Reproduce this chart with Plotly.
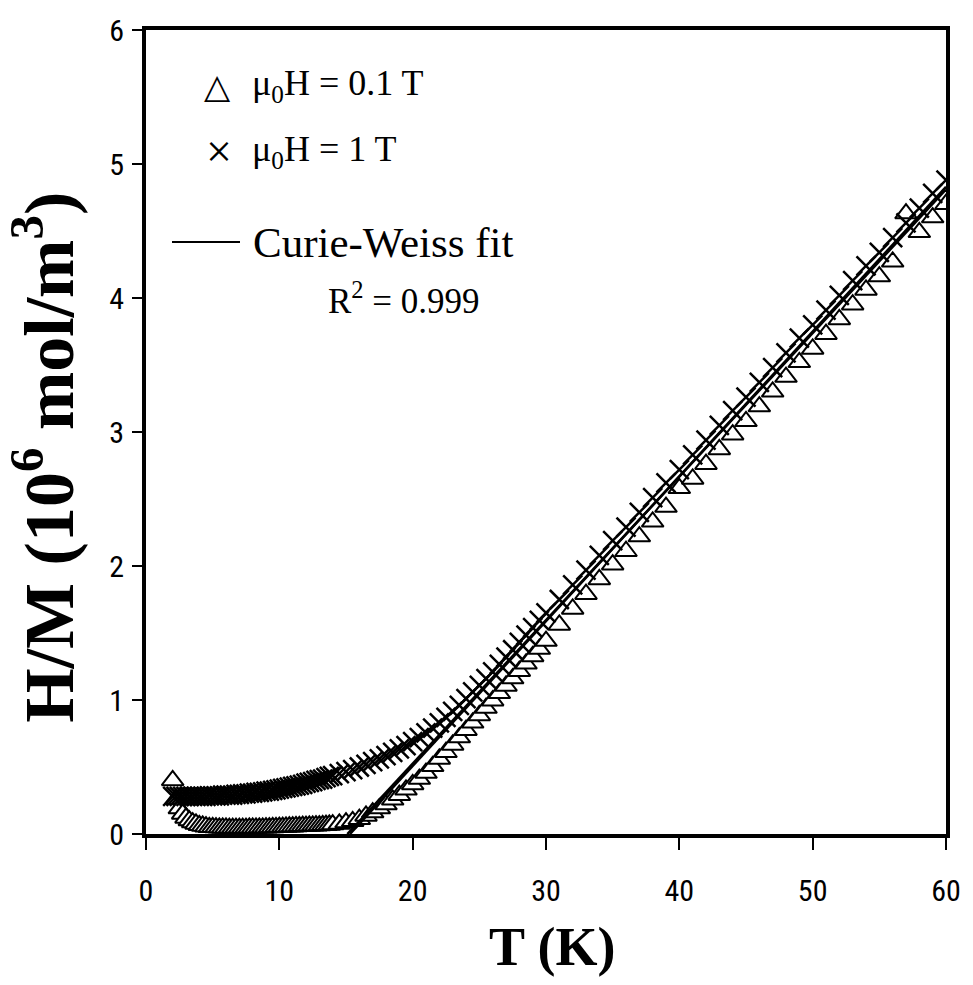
import plotly.graph_objects as go

# Temperatures (K) shared by both field series
T_K = [2, 2.25, 2.5, 2.75, 3, 3.25, 3.5, 3.75, 4, 4.25, 4.5, 4.75, 5, 5.25, 5.5, 5.75,
       6, 6.25, 6.5, 6.75, 7, 7.25, 7.5, 7.75, 8, 8.25, 8.5, 8.75, 9, 9.25, 9.5, 9.75,
       10, 10.25, 10.5, 10.75, 11, 11.25, 11.5, 11.75, 12, 12.25, 12.5, 12.75, 13, 13.25,
       13.5, 13.75, 14,
       14.5, 15, 15.5, 16, 16.5, 17, 17.5, 18, 18.5, 19, 19.5, 20, 20.5, 21, 21.5, 22,
       22.5, 23, 23.5, 24, 24.5, 25, 25.5, 26, 26.5, 27, 27.5, 28, 28.5, 29, 29.5, 30,
       31, 32, 33, 34, 35, 36, 37, 38, 39, 40, 41, 42, 43, 44, 45, 46, 47, 48, 49, 50,
       51, 52, 53, 54, 55, 56, 57, 58, 59, 60]

# H/M (10^6 mol/m^3) at mu0H = 0.1 T (triangles)
HM_01T = [0.40, 0.26, 0.19, 0.15, 0.12, 0.10, 0.085, 0.075, 0.065, 0.06, 0.055, 0.05, 0.05, 0.048, 0.046, 0.045,
          0.045, 0.044, 0.044, 0.044, 0.044, 0.044, 0.044, 0.045, 0.045, 0.045, 0.046, 0.046, 0.047, 0.048, 0.049, 0.05,
          0.051, 0.052, 0.053, 0.054, 0.055, 0.056, 0.057, 0.058, 0.059, 0.06, 0.061, 0.062, 0.063, 0.065,
          0.066, 0.068, 0.07,
          0.075, 0.085, 0.095, 0.11, 0.135, 0.16, 0.19, 0.22, 0.255, 0.29, 0.33, 0.37, 0.41, 0.455, 0.505, 0.56,
          0.61, 0.665, 0.72, 0.775, 0.83, 0.885, 0.94, 0.995, 1.05, 1.105, 1.16, 1.215, 1.27, 1.325, 1.38, 1.44,
          1.56, 1.68, 1.79, 1.90, 2.01, 2.11, 2.22, 2.33, 2.44, 2.58, 2.65, 2.76, 2.87, 2.98, 3.08, 3.19, 3.30, 3.41, 3.52, 3.62,
          3.73, 3.84, 3.95, 4.06, 4.16, 4.27, 4.63, 4.49, 4.60, 4.70]

# H/M at mu0H = 1 T (crosses)
HM_1T = [0.28, 0.28, 0.28, 0.28, 0.28, 0.28, 0.28, 0.28, 0.28, 0.28, 0.28, 0.285, 0.285, 0.285, 0.285, 0.29,
         0.29, 0.29, 0.29, 0.295, 0.295, 0.30, 0.30, 0.305, 0.305, 0.31, 0.31, 0.315, 0.32, 0.32, 0.325, 0.33,
         0.335, 0.34, 0.345, 0.35, 0.355, 0.36, 0.365, 0.37, 0.38, 0.385, 0.39, 0.40, 0.405, 0.41,
         0.42, 0.43, 0.435,
         0.45, 0.465, 0.48, 0.50, 0.52, 0.54, 0.56, 0.585, 0.61, 0.635, 0.66, 0.69, 0.72, 0.755, 0.79, 0.83,
         0.87, 0.915, 0.96, 1.01, 1.06, 1.11, 1.16, 1.21, 1.265, 1.32, 1.375, 1.43, 1.485, 1.54, 1.595, 1.65,
         1.75, 1.86, 1.97, 2.08, 2.19, 2.29, 2.40, 2.51, 2.62, 2.72, 2.83, 2.94, 3.05, 3.16, 3.26, 3.37, 3.48, 3.59, 3.70, 3.80,
         3.91, 4.02, 4.13, 4.24, 4.34, 4.45, 4.56, 4.67, 4.78, 4.88]

# Curie-Weiss fit lines (end points)
fitA_T = [15.3, 60]
fitA_HM = [0.0, 4.83]
fitB_T = [15.1, 60]
fitB_HM = [0.0, 4.81]

x_ticks = [0, 10, 20, 30, 40, 50, 60]
y_ticks = [0, 1, 2, 3, 4, 5, 6]

SERIF = "Liberation Serif, Times New Roman, serif"
TICKFONT = "Liberation Sans Narrow, Arial Narrow, Roboto Condensed, Liberation Sans, sans-serif"

fig = go.Figure()
fig.add_trace(go.Scatter(
    x=T_K, y=HM_01T, mode="markers", showlegend=False,
    marker=dict(symbol="triangle-up", size=19, color="white",
                line=dict(color="black", width=2))))
fig.add_trace(go.Scatter(
    x=T_K, y=HM_1T, mode="markers", showlegend=False,
    marker=dict(symbol="x-thin", size=19, color="black",
                line=dict(color="black", width=2.5))))
fig.add_trace(go.Scatter(x=fitA_T, y=fitA_HM, mode="lines", showlegend=False,
                         line=dict(color="black", width=2.5)))
fig.add_trace(go.Scatter(x=fitB_T, y=fitB_HM, mode="lines", showlegend=False,
                         line=dict(color="black", width=2.5)))

L, R, T, B = 146, 27, 26, 151
W, H = 973, 985
pw, ph = W - L - R, H - T - B

def px(x):
    return (x - L) / pw

def py(y):
    return (H - B - y) / ph

ann = []
ann.append(dict(text="△", x=px(217), y=py(82), xref="paper", yref="paper",
                showarrow=False, font=dict(family="DejaVu Sans", size=34, color="black"),
                xanchor="center", yanchor="middle"))
ann.append(dict(text="μ<sub>0</sub>H = 0.1 T", x=px(250), y=py(82), xref="paper", yref="paper",
                showarrow=False, font=dict(family=SERIF, size=36, color="black"),
                xanchor="left", yanchor="middle"))
ann.append(dict(text="×", x=px(219), y=py(148), xref="paper", yref="paper",
                showarrow=False, font=dict(family=SERIF, size=46, color="black"),
                xanchor="center", yanchor="middle"))
ann.append(dict(text="μ<sub>0</sub>H = 1 T", x=px(250), y=py(148), xref="paper", yref="paper",
                showarrow=False, font=dict(family=SERIF, size=36, color="black"),
                xanchor="left", yanchor="middle"))
ann.append(dict(text="Curie-Weiss fit", x=px(251), y=py(240), xref="paper", yref="paper",
                showarrow=False, font=dict(family=SERIF, size=43, color="black"),
                xanchor="left", yanchor="middle"))
ann.append(dict(text="R<sup>2</sup> = 0.999", x=px(326), y=py(296), xref="paper", yref="paper",
                showarrow=False, font=dict(family=SERIF, size=35, color="black"),
                xanchor="left", yanchor="middle"))
ann.append(dict(text="<b>T (K)</b>", x=px(552), y=py(948), xref="paper", yref="paper",
                showarrow=False, font=dict(family=SERIF, size=54, color="black"),
                xanchor="center", yanchor="middle"))
ann.append(dict(text="<b>H/M (10<sup>6</sup> mol/m<sup>3</sup>)</b>", x=px(43), y=py(456),
                xref="paper", yref="paper", textangle=-90,
                showarrow=False, font=dict(family=SERIF, size=70, color="black"),
                xanchor="center", yanchor="middle"))

fig.update_layout(
    width=W, height=H,
    margin=dict(l=L, r=R, t=T, b=B),
    paper_bgcolor="white", plot_bgcolor="white",
    annotations=ann,
    shapes=[dict(type="line", xref="paper", yref="paper",
                 x0=px(172), x1=px(240), y0=py(239), y1=py(239),
                 line=dict(color="black", width=2))],
)
fig.update_xaxes(range=[0, 60], tickvals=x_ticks, ticktext=[str(v) for v in x_ticks],
                 showgrid=False, zeroline=False, showline=True, linewidth=4, linecolor="black",
                 mirror=True, ticks="outside", ticklen=12, tickwidth=2, tickcolor="black",
                 ticklabelstandoff=15,
                 tickfont=dict(family=TICKFONT, size=30, color="black"))
fig.update_yaxes(range=[0, 6], tickvals=y_ticks, ticktext=[str(v) for v in y_ticks],
                 showgrid=False, zeroline=False, showline=True, linewidth=4, linecolor="black",
                 mirror=True, ticks="outside", ticklen=10, tickwidth=2, tickcolor="black",
                 ticklabelstandoff=2,
                 tickfont=dict(family=TICKFONT, size=30, color="black"))

fig.write_html("out.html", config={"displayModeBar": False},
               post_script="document.body.style.margin='0px';document.body.style.padding='0px';")
